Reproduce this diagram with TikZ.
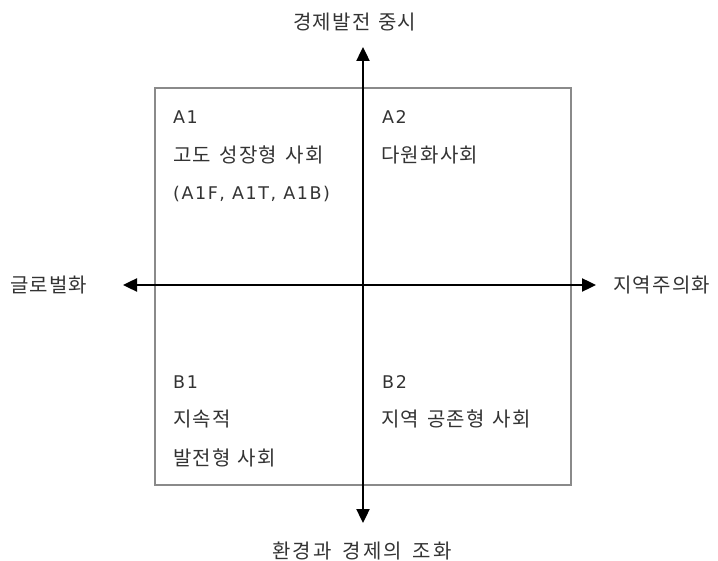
\documentclass[tikz,border=0pt]{standalone}
\usepackage{fontspec}
\setmainfont{Noto Sans CJK KR}[LetterSpace=6]
\newfontfamily\latfont{DejaVu Sans}[LetterSpace=9]
\usetikzlibrary{arrows.meta}
\definecolor{txt}{HTML}{333333}
\definecolor{frame}{HTML}{8A8A8A}
\newcommand{\ksp}[1]{\hspace{#1em}}
\tikzset{
  lbl/.style={inner sep=0pt, text=txt, font=\fontsize{20}{24}\selectfont},
  wide/.style={font=\fontsize{20}{24}\selectfont\addfontfeature{LetterSpace=12}},
  lat/.style={inner sep=0pt, text=txt, font=\latfont\fontsize{17.5}{21}\selectfont},
  axis/.style={line width=2.4pt, black, {Triangle[length=14pt,width=13pt]}-{Triangle[length=14pt,width=13pt]}},
}
\begin{document}
\begin{tikzpicture}[x=1pt,y=-1pt]
\useasboundingbox (0,0) rectangle (718,561);
\draw[frame, line width=1.2pt] (155,88) rectangle (571,485);
\coordinate (top) at (363,47);
\coordinate (bot) at (363,523);
\coordinate (lft) at (123,285);
\coordinate (rgt) at (596,285);
\draw[axis] (top) -- (bot);
\draw[axis] (lft) -- (rgt);
\node[lbl, anchor=base west] (tl) at (293,30) {경제발전\ksp{0.4}중시};
\node[lbl, wide, anchor=base west] (bl) at (272,558) {환경과\ksp{0.5}경제의\ksp{0.5}조화};
\node[lbl, anchor=base west] (ll) at (10,293) {글로벌화};
\node[lbl, anchor=base west] (rl) at (613,293) {지역주의화};
\node[lat, anchor=base west] (a1a) at (173,124) {A1};
\node[lbl, anchor=base west] (a1b) at (173,163) {고도\ksp{0.42}성장형\ksp{0.42}사회};
\node[lat, anchor=base west] (a1c) at (173,200) {(A1F, A1T, A1B)};
\node[lat, anchor=base west] (a2a) at (382,124) {A2};
\node[lbl, anchor=base west] (a2b) at (381,163) {다원화사회};
\node[lat, anchor=base west] (b1a) at (173,389) {B1};
\node[lbl, anchor=base west] (b1b) at (173,427) {지속적};
\node[lbl, anchor=base west] (b1c) at (173,465) {발전형\ksp{0.35}사회};
\node[lat, anchor=base west] (b2a) at (382,389) {B2};
\node[lbl, anchor=base west] (b2b) at (381,427) {지역\ksp{0.4}공존형\ksp{0.4}사회};
\end{tikzpicture}
\end{document}
